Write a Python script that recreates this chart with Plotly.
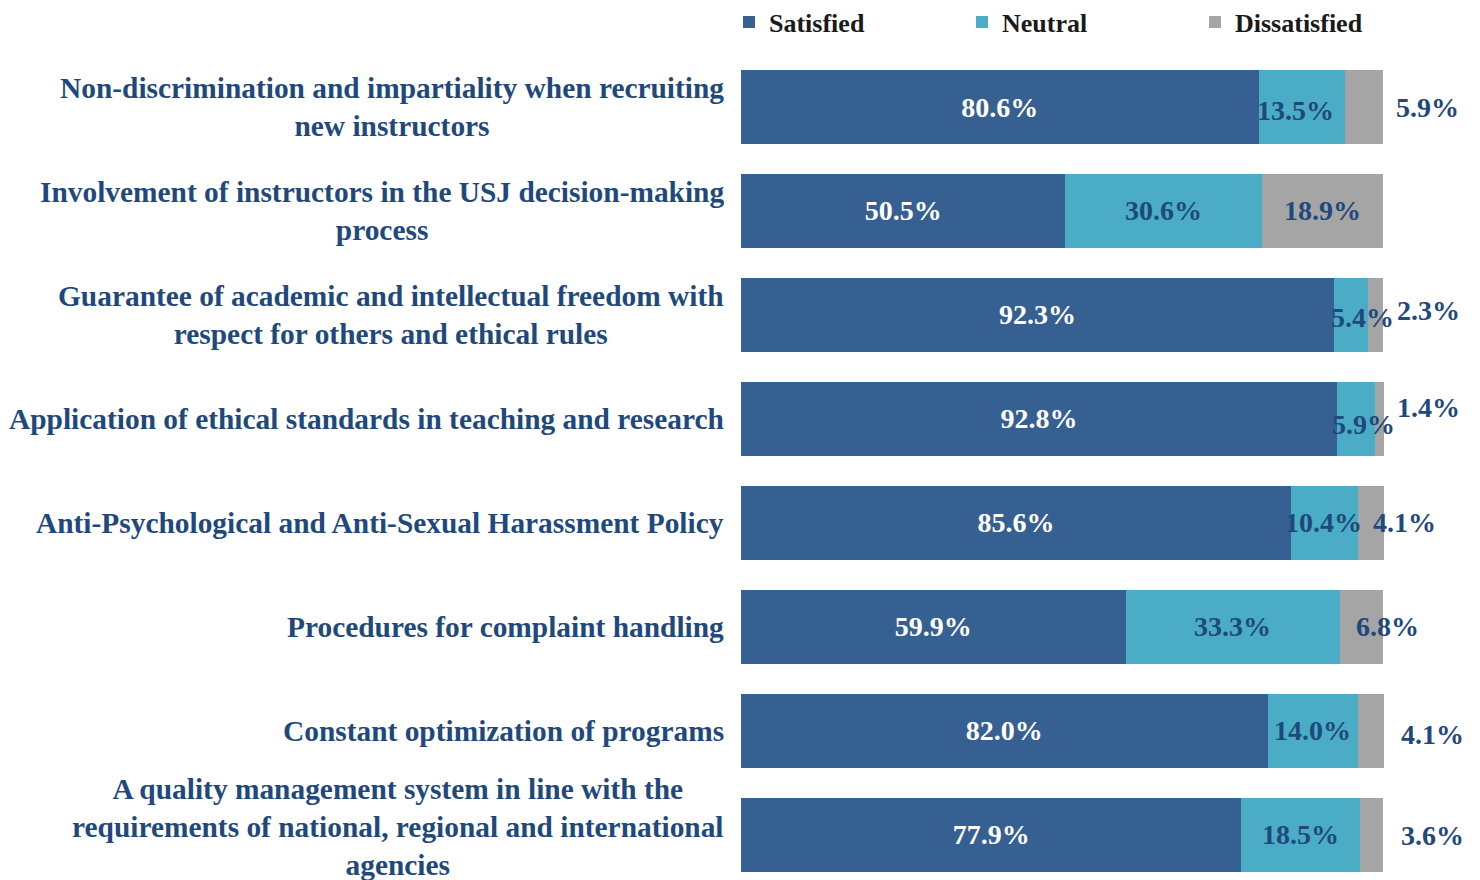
import plotly.graph_objects as go

categories = [
    "Non-discrimination and impartiality when recruiting<br>new instructors",
    "Involvement of instructors in the USJ decision-making<br>process",
    "Guarantee of academic and intellectual freedom with<br>respect for others and ethical rules",
    "Application of ethical standards in teaching and research",
    "Anti-Psychological and Anti-Sexual Harassment Policy",
    "Procedures for complaint handling",
    "Constant optimization of programs",
    "A quality management system in line with the<br>requirements of national, regional and international<br>agencies",
]
satisfied = [80.6, 50.5, 92.3, 92.8, 85.6, 59.9, 82.0, 77.9]
neutral = [13.5, 30.6, 5.4, 5.9, 10.4, 33.3, 14.0, 18.5]
dissatisfied = [5.9, 18.9, 2.3, 1.4, 4.1, 6.8, 4.1, 3.6]
series_names = ["Satisfied", "Neutral", "Dissatisfied"]

# label placement styles (pixel shifts), not data
neutral_dx = [-6, 0, 11, 8, -1, 0, 0, 0]
neutral_dy = [-3, 0, -3, -6, 0, 0, 0, 0]
dis_dx = [44, None, 45, 45, 21, 4, 49, 49]
dis_dy = [0, 0, 4, 11, 0, 0, -4, -1]
cat_dy = [0, 0, 0, 0, 0, 0, 0, 8]

C_SAT = "#376092"
C_NEU = "#4BACC6"
C_DIS = "#A5A5A5"
C_TXT = "#1F497D"
FONT = "Liberation Serif"

W, H = 1472, 872  # page body has an 8px margin

fig = go.Figure()
fig.add_trace(go.Bar(
    y=categories, x=satisfied, name=series_names[0], orientation="h",
    marker=dict(color=C_SAT, line=dict(width=0)),
    text=[f"{v:.1f}%" for v in satisfied], textposition="inside",
    insidetextanchor="middle", textangle=0, constraintext="none",
    textfont=dict(family=FONT, size=28, color="white", weight="bold"),
    width=0.71,
))
fig.add_trace(go.Bar(
    y=categories, x=neutral, name=series_names[1], orientation="h",
    marker=dict(color=C_NEU, line=dict(width=0)), width=0.71,
))
fig.add_trace(go.Bar(
    y=categories, x=dissatisfied, name=series_names[2], orientation="h",
    marker=dict(color=C_DIS, line=dict(width=0)), width=0.71,
))

annotations = []
for i, cat in enumerate(categories):
    annotations.append(dict(
        xref="paper", yref="y", x=0, y=cat, xanchor="right", yanchor="middle",
        xshift=-15, yshift=cat_dy[i], text=cat, showarrow=False, align="center",
        font=dict(family=FONT, size=29.4, color=C_TXT, weight="bold"),
    ))
    annotations.append(dict(
        xref="x", yref="y", x=satisfied[i] + neutral[i] / 2, y=cat,
        xanchor="center", yanchor="middle", xshift=neutral_dx[i], yshift=neutral_dy[i],
        text=f"{neutral[i]:.1f}%", showarrow=False,
        font=dict(family=FONT, size=28, color=C_TXT, weight="bold"),
    ))
    end = satisfied[i] + neutral[i] + dissatisfied[i]
    if dis_dx[i] is None:
        xpos, shift = end - dissatisfied[i] / 2, 0
    else:
        xpos, shift = end, dis_dx[i]
    annotations.append(dict(
        xref="x", yref="y", x=xpos, y=cat,
        xanchor="center", yanchor="middle", xshift=shift, yshift=dis_dy[i],
        text=f"{dissatisfied[i]:.1f}%", showarrow=False,
        font=dict(family=FONT, size=28, color=C_TXT, weight="bold"),
    ))

fig.update_layout(
    barmode="stack",
    width=W, height=H,
    margin=dict(l=733, r=12, t=47, b=0),
    paper_bgcolor="white", plot_bgcolor="white",
    font=dict(family=FONT),
    showlegend=True,
    legend=dict(
        orientation="h", xref="container", yref="container",
        x=721 / W, y=1 - 14 / H, xanchor="left", yanchor="middle",
        entrywidth=188, traceorder="normal",
        font=dict(family=FONT, size=26, color="#1A1A1A", weight="bold"),
    ),
    xaxis=dict(range=[0, 113.2], visible=False, fixedrange=True),
    yaxis=dict(
        type="category", categoryorder="array", categoryarray=categories,
        range=[7.433, -0.5], showticklabels=False, showgrid=False,
        zeroline=False, showline=False, ticks="",
    ),
    annotations=annotations,
)

fig.write_html("out.html")
